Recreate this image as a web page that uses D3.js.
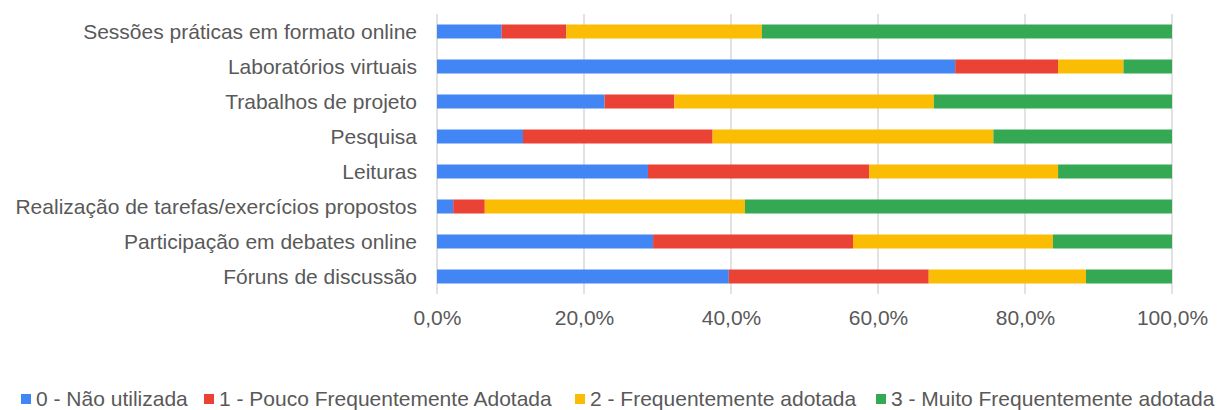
<!DOCTYPE html>
<html>
<head>
<meta charset="utf-8">
<script src="https://cdn.jsdelivr.net/npm/d3@7"></script>
<style>
  body { margin: 0; background: #fff; }
  svg text { font-family: "Liberation Sans", Arial, sans-serif; fill: #595959; }
</style>
</head>
<body>
<div id="chart"></div>
<script>
var categories = [
  "Sessões práticas em formato online",
  "Laboratórios virtuais",
  "Trabalhos de projeto",
  "Pesquisa",
  "Leituras",
  "Realização de tarefas/exercícios propostos",
  "Participação em debates online",
  "Fóruns de discussão"
];

var seriesNames = [
  "0 - Não utilizada",
  "1 - Pouco Frequentemente Adotada",
  "2 - Frequentemente adotada",
  "3 - Muito Frequentemente adotada"
];

// percentages per category, same order as categories
var naoUtilizada   = [8.8, 70.5, 22.8, 11.7, 28.7, 2.2, 29.4, 39.7];
var poucoFreq      = [8.8, 14.0,  9.5, 25.8, 30.1, 4.3, 27.2, 27.2];
var frequente      = [26.6, 8.9, 35.3, 38.2, 25.7, 35.4, 27.2, 21.4];
var muitoFrequente = [55.8, 6.6, 32.4, 24.3, 15.5, 58.1, 16.2, 11.7];

var tickValues = [0, 20, 40, 60, 80, 100];
var colors = ["#4285F4", "#EA4335", "#FBBC04", "#34A853"];

var width = 1220, height = 410;
var margin = {top: 14, left: 437, right: 48, bottom: 116};
var fontSize = "21px";

var svg = d3.select("#chart")
  .append("svg")
  .attr("width", width)
  .attr("height", height);

var data = categories.map(function(c, i) {
  return {cat: c, s0: naoUtilizada[i], s1: poucoFreq[i], s2: frequente[i], s3: muitoFrequente[i]};
});

var xScale = d3.scaleLinear()
  .domain([0, 100])
  .range([margin.left, width - margin.right]);

var yScale = d3.scaleBand()
  .domain(categories)
  .range([margin.top, height - margin.bottom])
  .paddingInner(0.6)
  .paddingOuter(0.3);

// gridlines
svg.append("g")
  .selectAll("line")
  .data(tickValues)
  .enter()
  .append("line")
    .attr("x1", function(d) { return xScale(d); })
    .attr("x2", function(d) { return xScale(d); })
    .attr("y1", margin.top)
    .attr("y2", height - margin.bottom)
    .attr("stroke", "#d9d9d9")
    .attr("stroke-width", 1.5);

var stack = d3.stack().keys(["s0", "s1", "s2", "s3"]);
var stacked = stack(data);

svg.append("g")
  .selectAll("g")
  .data(stacked)
  .enter()
  .append("g")
    .attr("fill", function(d, i) { return colors[i]; })
  .selectAll("rect")
  .data(function(d) { return d; })
  .enter()
  .append("rect")
    .attr("x", function(d) { return xScale(d[0]); })
    .attr("width", function(d) { return xScale(d[1]) - xScale(d[0]); })
    .attr("y", function(d) { return yScale(d.data.cat); })
    .attr("height", yScale.bandwidth());

// category labels
var yAxis = svg.append("g")
  .attr("transform", "translate(" + (margin.left - 20) + ",0)")
  .call(d3.axisLeft(yScale).tickSize(0).tickPadding(0));
yAxis.select(".domain").remove();
yAxis.selectAll("text")
  .attr("font-size", fontSize)
  .attr("dy", "0.35em");

// x tick labels
var xAxis = svg.append("g")
  .attr("transform", "translate(0," + (height - margin.bottom) + ")")
  .call(d3.axisBottom(xScale).tickValues(tickValues).tickSize(0).tickPadding(0)
    .tickFormat(function(d) { return d3.format(".1f")(d).replace(".", ",") + "%"; }));
xAxis.select(".domain").remove();
xAxis.selectAll("text")
  .attr("font-size", fontSize)
  .attr("y", 31)
  .attr("dy", 0);

// legend
var legendX = [21, 204, 575, 876];
var legend = svg.append("g")
  .selectAll("g")
  .data(seriesNames)
  .enter()
  .append("g")
    .attr("transform", function(d, i) { return "translate(" + legendX[i] + ",394)"; });

legend.append("rect")
  .attr("width", 10)
  .attr("height", 10)
  .attr("fill", function(d, i) { return colors[i]; });

legend.append("text")
  .attr("x", 15)
  .attr("y", 12)
  .attr("font-size", fontSize)
  .text(function(d) { return d; });
</script>
</body>
</html>
